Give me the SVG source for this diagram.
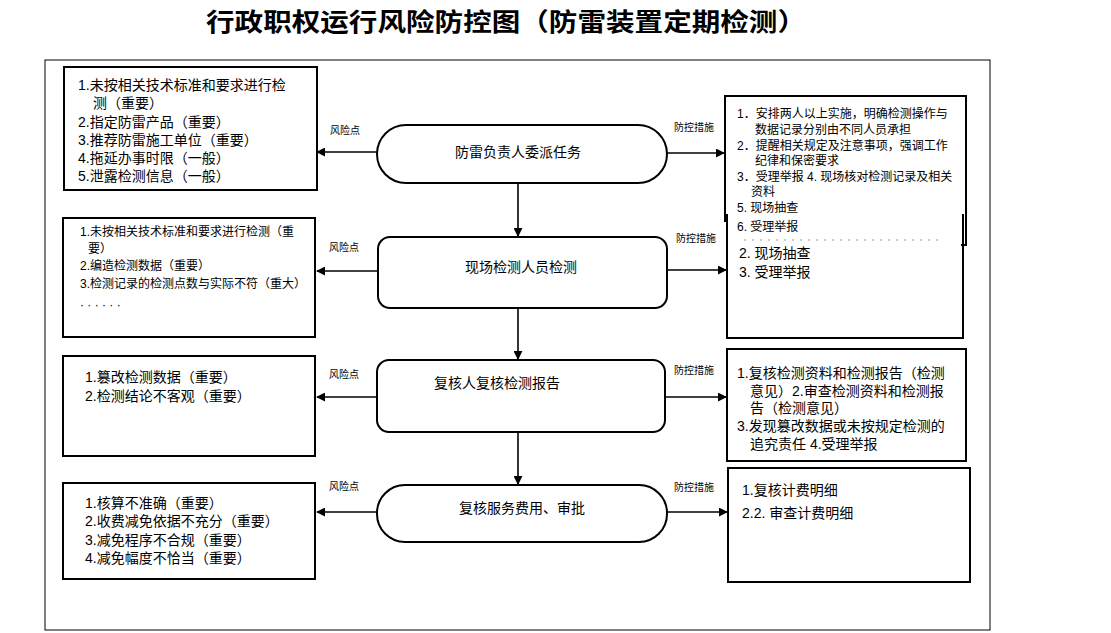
<svg xmlns="http://www.w3.org/2000/svg" width="1111" height="633" viewBox="0 0 1111 633">
<style>
  text{font-family:"Liberation Sans","Noto Sans CJK SC",sans-serif;fill:#000}
  .t14{font-size:14px}
  .t12{font-size:12px}
  .lbl{font-size:10px}
  .box{fill:#fff;stroke:#000;stroke-width:2}
  .proc{fill:#fff;stroke:#000;stroke-width:2}
  .c{fill:none;stroke:#000;stroke-width:1.6}
</style>
<defs>
  <marker id="ah" viewBox="0 0 10 10" refX="9" refY="5" markerWidth="9" markerHeight="9" markerUnits="userSpaceOnUse" orient="auto">
    <path d="M0,0 L10,5 L0,10 Z" fill="#000"/>
  </marker>
</defs>
<rect width="1111" height="633" fill="#fff"/>
<text x="506" y="31" text-anchor="middle" style="font-family:'Noto Sans CJK SC',sans-serif;font-size:25px;font-weight:bold" textLength="600" lengthAdjust="spacingAndGlyphs">行政职权运行风险防控图（防雷装置定期检测）</text>
<rect id="frame" x="45" y="60" width="945" height="570" fill="none" stroke="#000" stroke-width="1"/>

<g id="connectors">
  <line class="c" x1="518" y1="183" x2="518" y2="236" marker-end="url(#ah)"/>
  <line class="c" x1="518" y1="308" x2="518" y2="359" marker-end="url(#ah)"/>
  <line class="c" x1="518" y1="432" x2="518" y2="484" marker-end="url(#ah)"/>
  <line class="c" x1="377" y1="152" x2="317" y2="152" marker-end="url(#ah)"/>
  <line class="c" x1="378" y1="271" x2="317" y2="271" marker-end="url(#ah)"/>
  <line class="c" x1="377" y1="397" x2="317" y2="397" marker-end="url(#ah)"/>
  <line class="c" x1="377" y1="512" x2="317" y2="512" marker-end="url(#ah)"/>
  <line class="c" x1="667" y1="153" x2="724" y2="153" marker-end="url(#ah)"/>
  <line class="c" x1="667" y1="270" x2="726" y2="270" marker-end="url(#ah)"/>
  <line class="c" x1="665" y1="397" x2="726" y2="397" marker-end="url(#ah)"/>
  <line class="c" x1="667" y1="512" x2="727" y2="512" marker-end="url(#ah)"/>
  <text class="lbl" x="330" y="134">风险点</text>
  <text class="lbl" x="329" y="251">风险点</text>
  <text class="lbl" x="329" y="378">风险点</text>
  <text class="lbl" x="329" y="490">风险点</text>
  <text class="lbl" x="674" y="131" textLength="40" lengthAdjust="spacingAndGlyphs">防控措施</text>
  <text class="lbl" x="676" y="242" textLength="40" lengthAdjust="spacingAndGlyphs">防控措施</text>
  <text class="lbl" x="674" y="374" textLength="40" lengthAdjust="spacingAndGlyphs">防控措施</text>
  <text class="lbl" x="674" y="491" textLength="40" lengthAdjust="spacingAndGlyphs">防控措施</text>
</g>

<g id="p1">
  <rect class="proc" x="377" y="125" width="290" height="58" rx="29" ry="29"/>
  <text class="t14" x="518" y="157" text-anchor="middle">防雷负责人委派任务</text>
</g>
<g id="p2">
  <rect class="proc" x="378" y="237" width="289" height="71" rx="12" ry="12"/>
  <text class="t14" x="521" y="272" text-anchor="middle">现场检测人员检测</text>
</g>
<g id="p3">
  <rect class="proc" x="377" y="360" width="288" height="72" rx="12" ry="12"/>
  <text class="t14" x="497" y="388" text-anchor="middle">复核人复核检测报告</text>
</g>
<g id="p4">
  <rect class="proc" x="377" y="485" width="290" height="57" rx="28" ry="28"/>
  <text class="t14" x="522" y="513" text-anchor="middle">复核服务费用、审批</text>
</g>

<g id="l1">
  <rect class="box" x="64" y="67" width="253" height="123"/>
  <text class="t14" x="78" y="90">1.未按相关技术标准和要求进行检</text>
  <text class="t14" x="93" y="108">测（重要）</text>
  <text class="t14" x="78" y="127">2.指定防雷产品（重要）</text>
  <text class="t14" x="78" y="145">3.推荐防雷施工单位（重要）</text>
  <text class="t14" x="78" y="163">4.拖延办事时限（一般）</text>
  <text class="t14" x="78" y="181">5.泄露检测信息（一般）</text>
</g>
<g id="l2">
  <rect class="box" x="63" y="218" width="252" height="119"/>
  <text class="t12" x="80" y="236">1.未按相关技术标准和要求进行检测（重</text>
  <text class="t12" x="88" y="253">要）</text>
  <text class="t12" x="80" y="270">2.编造检测数据（重要）</text>
  <text class="t12" x="80" y="288">3.检测记录的检测点数与实际不符（重大）</text>
  <text class="t12" x="80" y="309">· · · · · ·</text>
</g>
<g id="l3">
  <rect class="box" x="63" y="356" width="252" height="100"/>
  <text class="t14" x="85" y="382">1.篡改检测数据（重要）</text>
  <text class="t14" x="85" y="401">2.检测结论不客观（重要）</text>
</g>
<g id="l4">
  <rect class="box" x="63" y="483" width="252" height="96"/>
  <text class="t14" x="85" y="508">1.核算不准确（重要）</text>
  <text class="t14" x="85" y="526">2.收费减免依据不充分（重要）</text>
  <text class="t14" x="85" y="545">3.减免程序不合规（重要）</text>
  <text class="t14" x="85" y="563">4.减免幅度不恰当（重要）</text>
</g>

<g id="r2">
  <path d="M727,214 L727,338 L963,338 L963,214" fill="#fff" stroke="#000" stroke-width="2"/>
  <line x1="938" y1="240" x2="742" y2="240" stroke="#999" stroke-width="1" stroke-dasharray="2,6"/>
  <text class="t14" x="739" y="258">2.  现场抽查</text>
  <text class="t14" x="739" y="277">3.  受理举报</text>
</g>
<g id="r1">
  <path d="M725,222 L725,96 L966,96 L966,245 L961,245" fill="none" stroke="#000" stroke-width="2"/>
  <text class="t12" x="737" y="118">1．安排两人以上实施，明确检测操作与</text>
  <text class="t12" x="755" y="134">数据记录分别由不同人员承担</text>
  <text class="t12" x="737" y="150">2．提醒相关规定及注意事项，强调工作</text>
  <text class="t12" x="755" y="165">纪律和保密要求</text>
  <text class="t12" x="737" y="181">3．受理举报 4. 现场核对检测记录及相关</text>
  <text class="t12" x="751" y="196">资料</text>
  <text class="t12" x="737" y="212">5. 现场抽查</text>
  <text class="t12" x="737" y="231">6. 受理举报</text>
</g>
<g id="r3">
  <rect class="box" x="727" y="349" width="239" height="112"/>
  <text class="t14" x="737" y="378">1.复核检测资料和检测报告（检测</text>
  <text class="t14" x="750" y="396">意见）2.审查检测资料和检测报</text>
  <text class="t14" x="750" y="413">告（检测意见）</text>
  <text class="t14" x="737" y="431">3.发现篡改数据或未按规定检测的</text>
  <text class="t14" x="750" y="449">追究责任 4.受理举报</text>
</g>
<g id="r4">
  <rect class="box" x="728" y="468" width="242" height="114"/>
  <text class="t14" x="742" y="495">1.复核计费明细</text>
  <text class="t14" x="742" y="518">2.2.  审查计费明细</text>
</g>
</svg>
